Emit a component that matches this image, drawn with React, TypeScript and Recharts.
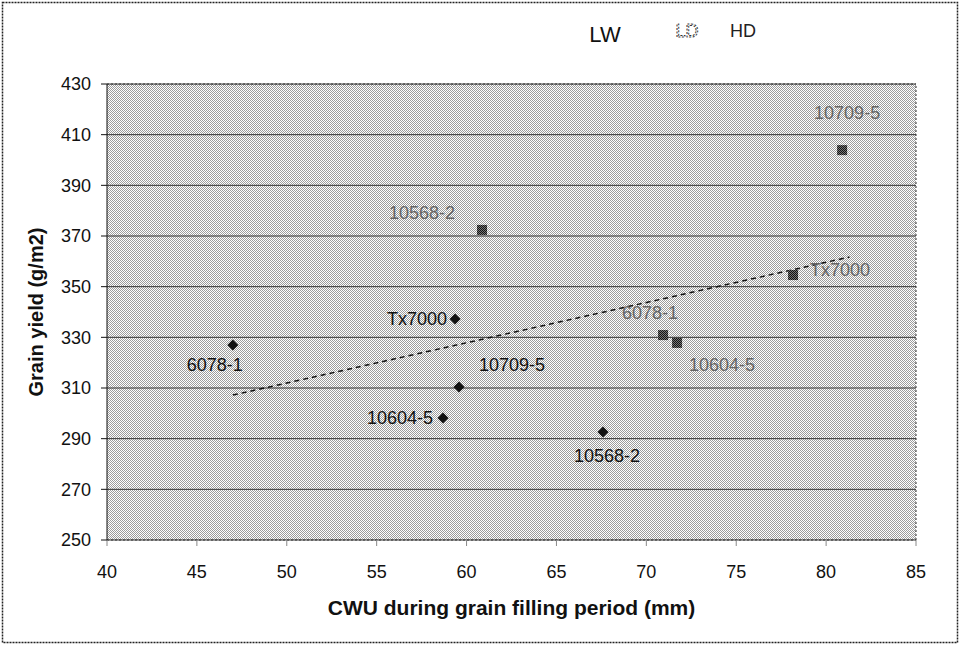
import React from "react";
import {
  ScatterChart,
  Scatter,
  XAxis,
  YAxis,
  CartesianGrid,
  ReferenceLine,
} from "recharts";

// values
const lwNames = ["6078-1", "Tx7000", "10709-5", "10604-5", "10568-2"];
const lwCwu = [47.0, 59.36, 59.58, 58.69, 67.59];
const lwYield = [327.0, 337.2, 310.4, 298.2, 292.6];

const hdNames = ["10568-2", "6078-1", "10604-5", "Tx7000", "10709-5"];
const hdCwu = [60.86, 70.93, 71.71, 78.16, 80.89];
const hdYield = [372.4, 330.9, 327.8, 354.6, 403.9];

const trendCwu = [47.0, 81.3];
const trendYield = [307.2, 361.7];

const xTicks = [40, 45, 50, 55, 60, 65, 70, 75, 80, 85];
const yTicks = [250, 270, 290, 310, 330, 350, 370, 390, 410, 430];

const legendNames = ["LW", "LD", "HD"];

const lwData = lwNames.map((name, i) => ({ name, x: lwCwu[i], y: lwYield[i] }));
const hdData = hdNames.map((name, i) => ({ name, x: hdCwu[i], y: hdYield[i] }));
const trendData = trendCwu.map((x, i) => ({ x, y: trendYield[i] }));

// label placement relative to marker centre: [dx, dy, anchor]
const lwLabelPos: Record<string, [number, number, string]> = {
  "6078-1": [-18, 20, "middle"],
  Tx7000: [-8, 0, "end"],
  "10709-5": [53, -22, "middle"],
  "10604-5": [-10, 0, "end"],
  "10568-2": [4, 24, "middle"],
};
const hdLabelPos: Record<string, [number, number, string]> = {
  "10568-2": [-60, -17, "middle"],
  "6078-1": [-13, -22, "middle"],
  "10604-5": [45, 22, "middle"],
  Tx7000: [47, -5, "middle"],
  "10709-5": [5, -37, "middle"],
};

const font = "'Liberation Sans', Arial, Helvetica, sans-serif";

const LwShape = (props: any) => {
  const { cx, cy, payload } = props;
  const p = lwLabelPos[payload.name] || [0, 0, "middle"];
  const r = 5.5;
  return (
    <g>
      <polygon
        points={`${cx},${cy - r} ${cx + r},${cy} ${cx},${cy + r} ${cx - r},${cy}`}
        fill="#111"
      />
      <text
        x={cx + p[0]}
        y={cy + p[1]}
        textAnchor={p[2] as any}
        dominantBaseline="central"
        fontSize={18}
        fontFamily={font}
        fill="#111"
      >
        {payload.name}
      </text>
    </g>
  );
};

const HdShape = (props: any) => {
  const { cx, cy, payload } = props;
  const p = hdLabelPos[payload.name] || [0, 0, "middle"];
  return (
    <g>
      <rect x={cx - 5} y={cy - 5} width={10} height={10} fill="url(#hdmark)" />
      <text
        x={cx + p[0]}
        y={cy + p[1]}
        textAnchor={p[2] as any}
        dominantBaseline="central"
        fontSize={18}
        fontFamily={font}
        fill="#666"
      >
        {payload.name}
      </text>
    </g>
  );
};

const NoShape = () => <g />;

export default function App() {
  return (
    <div style={{ position: "absolute", left: 0, top: 0, width: 960, height: 645, background: "#fff" }}>
      <svg width={0} height={0} style={{ position: "absolute" }}>
        <defs>
          <pattern id="stipple" width={2} height={2} patternUnits="userSpaceOnUse">
            <rect width={2} height={2} fill="#ffffff" />
            <rect x={0} y={0} width={1} height={1} fill="#9c9c9c" />
            <rect x={1} y={1} width={1} height={1} fill="#9c9c9c" />
          </pattern>
          <pattern id="hdmark" width={2} height={2} patternUnits="userSpaceOnUse">
            <rect width={2} height={2} fill="#777" />
            <rect x={0} y={0} width={1} height={1} fill="#111" />
            <rect x={1} y={1} width={1} height={1} fill="#111" />
          </pattern>
        </defs>
      </svg>
      <ScatterChart
        width={960}
        height={645}
        margin={{ top: 84, right: 44, bottom: 0, left: 0 }}
        style={{ fontFamily: font }}
      >
        <CartesianGrid
          vertical={false}
          stroke="#333"
          fill="url(#stipple)"
          fillOpacity={1}
        />
        <XAxis
          type="number"
          dataKey="x"
          domain={[40, 85]}
          ticks={xTicks}
          height={105}
          tickSize={6}
          tickMargin={19}
          tick={{ fontSize: 18, fill: "#111", fontFamily: font }}
          axisLine={{ stroke: "#333", strokeDasharray: "2 2" }}
          tickLine={{ stroke: "#888" }}
          allowDataOverflow
          label={{
            value: "CWU during grain filling period (mm)",
            position: "insideBottom",
            offset: 30,
            style: { fontSize: 21, fontWeight: "bold", fill: "#111", fontFamily: font },
          }}
        />
        <YAxis
          type="number"
          dataKey="y"
          domain={[250, 430]}
          ticks={yTicks}
          width={107}
          tickSize={6}
          tickMargin={10}
          tick={{ fontSize: 18, fill: "#111", fontFamily: font }}
          axisLine={{ stroke: "#111" }}
          tickLine={{ stroke: "#111" }}
          allowDataOverflow
          label={{
            value: "Grain yield (g/m2)",
            angle: -90,
            position: "insideLeft",
            offset: 36,
            style: { textAnchor: "middle", fontSize: 20, fontWeight: "bold", fill: "#111", fontFamily: font },
          }}
        />
        <ReferenceLine y={430} stroke="#333" strokeDasharray="2 2" />
        <ReferenceLine x={85} stroke="#333" strokeDasharray="2 2" />
        <Scatter
          name="trend"
          data={trendData}
          line={{ stroke: "#111", strokeWidth: 1.5, strokeDasharray: "5 4" }}
          shape={NoShape}
          isAnimationActive={false}
        />
        <Scatter name="LW" data={lwData} shape={LwShape} isAnimationActive={false} />
        <Scatter name="HD" data={hdData} shape={HdShape} isAnimationActive={false} />
      </ScatterChart>
      <svg
        width={960}
        height={645}
        style={{ position: "absolute", left: 0, top: 0, pointerEvents: "none" }}
      >
        <rect
          x={2.5}
          y={2.5}
          width={955}
          height={640}
          fill="none"
          stroke="#222"
          strokeWidth={1.5}
          strokeDasharray="2 1"
        />
        <text x={605} y={34} textAnchor="middle" dominantBaseline="central" fontSize={22} fontFamily={font} fill="#111">
          {legendNames[0]}
        </text>
        <text
          x={687}
          y={31}
          textAnchor="middle"
          dominantBaseline="central"
          fontSize={18}
          fontFamily={font}
          fill="none"
          stroke="#333"
          strokeWidth={1}
          strokeDasharray="2 1.5"
        >
          {legendNames[1]}
        </text>
        <text x={743} y={31} textAnchor="middle" dominantBaseline="central" fontSize={18} fontFamily={font} fill="#222">
          {legendNames[2]}
        </text>
      </svg>
    </div>
  );
}
